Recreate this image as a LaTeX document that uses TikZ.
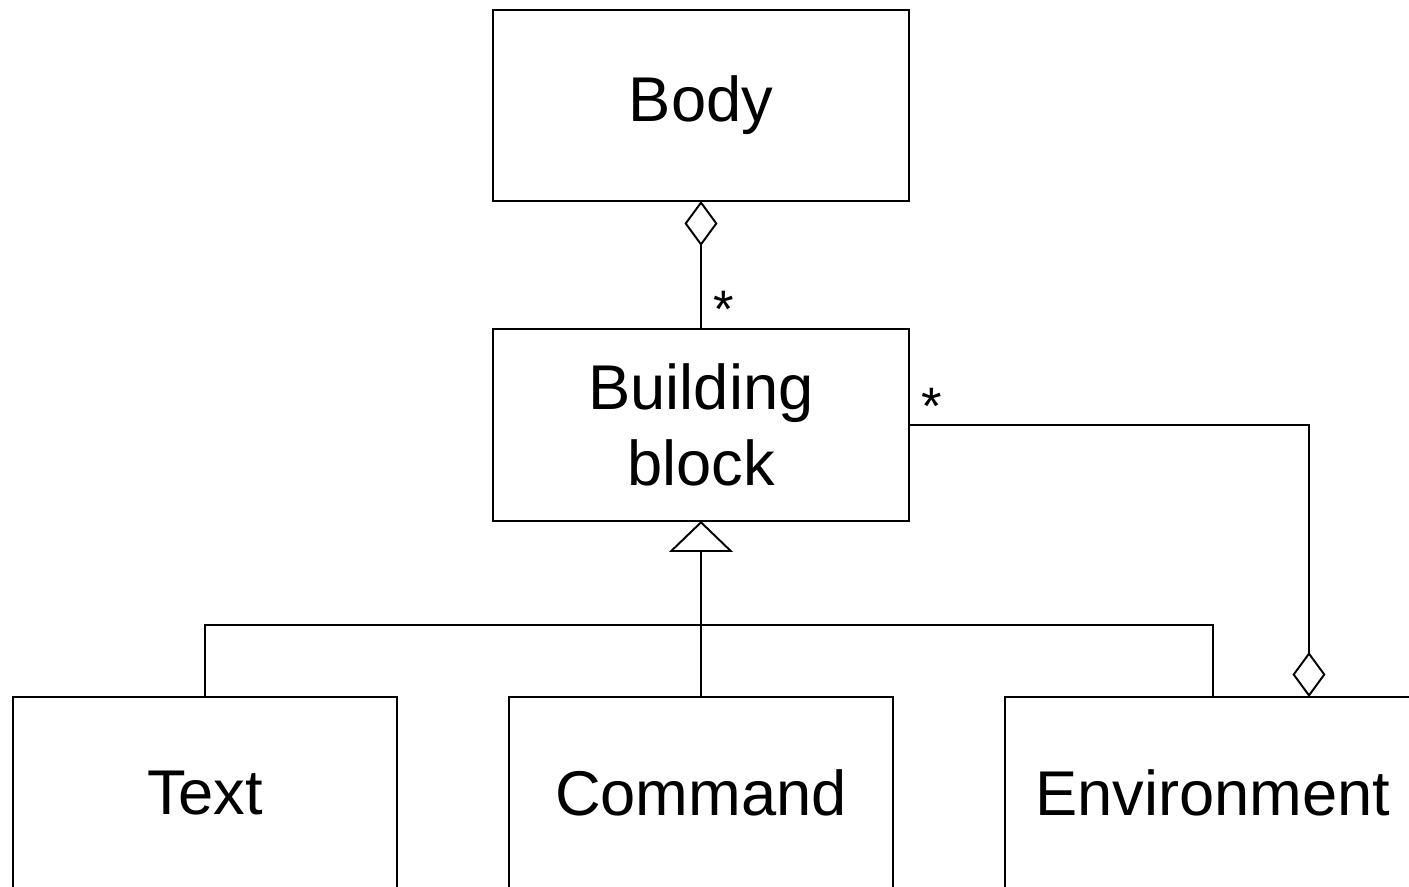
\documentclass[tikz,border=0pt]{standalone}
\usepackage{fontspec}
\setmainfont{Liberation Sans}
\usetikzlibrary{arrows.meta}

\tikzset{%
  umlclass/.style={
    rectangle,
    draw,
    line width=1.1pt,
    inner sep=0pt,
    outer sep=0pt,
    minimum width=8.32cm,
    minimum height=3.82cm,
    align=center,
    font=\fontsize{36}{43}\selectfont
  },
  umlleaf/.style={
    umlclass,
    minimum width=7.68cm,
    minimum height=3.84cm
  },
  multiplicity/.style={
    font=\fontsize{30}{36}\selectfont,
    inner sep=0pt
  },
  aggregation/.style={
    line width=1.1pt,
    {Diamond[open,length=0.9cm,width=0.66cm]}-
  },
  generalization/.style={
    line width=1.1pt,
    -{Triangle[open,length=0.62cm,width=1.28cm]}
  },
}

\begin{document}
\begin{tikzpicture}[x=0.02cm,y=-0.02cm]
\useasboundingbox (0,0) rectangle (1409,886);
\node[umlclass] (body) at (701,105.5) {Body};
\node[umlclass, minimum height=3.84cm] (block) at (701,425) {Building\\block};
\node[umlleaf] (text) at (205,793) {Text};
\node[umlleaf] (command) at (701,793) {Command};
\node[umlclass, minimum height=3.84cm] (environment) at (1213,793) {Environment};
\coordinate (fork) at (701,625);

% aggregations
\draw[aggregation] (body.south) -- (block.north);
\node[multiplicity] (bodystar) at (724,309) {*};
\draw[aggregation] ([xshift=1.92cm]environment.north) |- (block.east);
\node[multiplicity] (blockstar) at (932,406) {*};

% generalization
\draw[line width=1.1pt] (text.north) |- (fork) -| (environment.north);
\draw[generalization] (command.north) -- (block.south);
\end{tikzpicture}
\end{document}
